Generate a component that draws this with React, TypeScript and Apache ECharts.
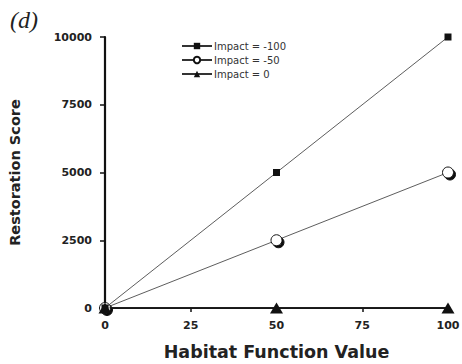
import React, { useEffect, useRef } from "react";
import * as echarts from "echarts";

const xValues = [0, 50, 100];
const impact100 = [0, 5000, 10000];
const impact50 = [0, 2500, 5000];
const impact0 = [0, 0, 0];
const seriesNames = ["Impact = -100", "Impact = -50", "Impact = 0"];

export default function App() {
  const ref = useRef<HTMLDivElement>(null);
  useEffect(() => {
    if (!ref.current) return;
    const chart = echarts.init(ref.current, null, { renderer: "svg" });
    const pts = (ys: number[]) => xValues.map((x, i) => [x, ys[i]]);
    const lineStyle = { color: "#333", width: 0.8 };
    const font = "DejaVu Sans";
    chart.setOption({
      animation: false,
      backgroundColor: "#fff",
      grid: { left: 105, right: 14, top: 37, bottom: 56, outerBoundsMode: "none", containLabel: false },
      title: {
        text: "(d)",
        left: 5,
        top: 3,
        textStyle: { fontFamily: "Liberation Serif", fontStyle: "italic", fontWeight: "normal", fontSize: 24, color: "#222" },
      },
      legend: {
        orient: "vertical",
        left: 176,
        top: 36,
        itemWidth: 30,
        itemHeight: 8,
        itemGap: 4,
        textStyle: { fontFamily: font, fontSize: 10, color: "#333", padding: [0, 0, 0, -3] },
        data: seriesNames,
      },
      xAxis: {
        type: "value",
        min: 0,
        max: 100,
        interval: 25,
        name: "Habitat Function Value",
        nameLocation: "middle",
        nameGap: 35,
        nameTextStyle: { fontFamily: font, fontWeight: "bold", fontSize: 17.5, color: "#222" },
        axisLine: { show: true, lineStyle: { color: "#111", width: 2.2 } },
        axisTick: { show: true, length: 4, lineStyle: { color: "#111", width: 1.5 } },
        axisLabel: { fontFamily: font, fontWeight: "bold", fontSize: 11, color: "#222", margin: 12, formatter: (v: number) => String(v) },
        splitLine: { show: false },
      },
      yAxis: {
        type: "value",
        min: 0,
        max: 10000,
        interval: 2500,
        name: "Restoration Score",
        nameLocation: "middle",
        nameGap: 83,
        nameTextStyle: { fontFamily: font, fontWeight: "bold", fontSize: 14.5, color: "#222" },
        axisLine: { show: true, lineStyle: { color: "#111", width: 2.2 } },
        axisTick: { show: true, length: 5, lineStyle: { color: "#111", width: 1.5 } },
        axisLabel: { fontFamily: font, fontWeight: "bold", fontSize: 11, color: "#222", margin: 13, formatter: (v: number) => String(v) },
        splitLine: { show: false },
      },
      series: [
        {
          name: seriesNames[0],
          type: "line",
          data: pts(impact100),
          symbol: "rect",
          symbolSize: 7,
          itemStyle: { color: "#111" },
          lineStyle,
          z: 3,
        },
        {
          name: seriesNames[1],
          type: "line",
          data: pts(impact50),
          symbol: "circle",
          symbolSize: 11,
          itemStyle: { color: "#fff", borderColor: "#111", borderWidth: 1, shadowColor: "#111", shadowOffsetX: 2, shadowOffsetY: 2, shadowBlur: 1 },
          lineStyle,
          z: 2,
        },
        {
          name: seriesNames[2],
          type: "line",
          data: pts(impact0),
          symbol: "triangle",
          symbolSize: [13, 11],
          itemStyle: { color: "#111" },
          lineStyle,
          z: 4,
        },
      ],
    });
    return () => chart.dispose();
  }, []);
  return <div ref={ref} style={{ width: 462, height: 364, position: "absolute", left: 0, top: 0 }} />;
}
